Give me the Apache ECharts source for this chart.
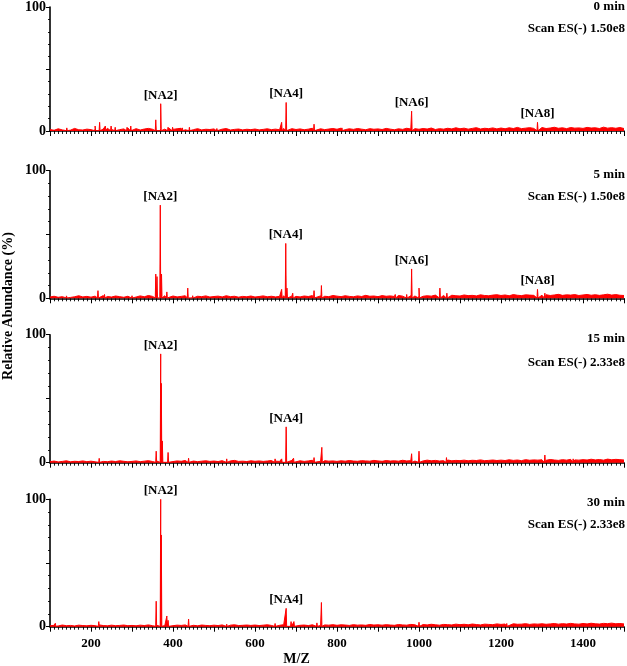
<!DOCTYPE html>
<html>
<head>
<meta charset="utf-8">
<script src="https://cdn.jsdelivr.net/npm/echarts/dist/echarts.min.js"></script>
<style>
html,body{margin:0;padding:0;background:#fff;}
#main{width:627px;height:666px;}
</style>
</head>
<body>
<div id="main"></div>
<script>
// ---- Data ----
const panelTimes = ['0 min', '5 min', '15 min', '30 min'];
const scanLabels = ['Scan ES(-) 1.50e8', 'Scan ES(-) 1.50e8', 'Scan ES(-) 2.33e8', 'Scan ES(-) 2.33e8'];
const xTicks = [200, 400, 600, 800, 1000, 1200, 1400];
const yTicks = [0, 100];

// baseline noise, one value per 10 m/z from 100 to 1500 (relative abundance %)
const noise0 = [
1.2,0.6,1.8,0.9,1.4,0.7,2.1,1.0,0.8,1.5,
1.1,2.0,0.9,1.6,2.2,1.3,2.0,1.1,1.7,2.4,
1.2,1.9,0.8,1.6,2.1,1.4,1.0,2.0,1.5,2.3,
1.3,1.8,2.2,1.0,1.6,1.1,1.9,0.9,1.4,1.2,
1.7,1.0,1.5,2.0,0.8,1.3,1.6,0.9,1.4,1.1,
1.6,0.9,1.3,1.8,1.1,1.5,1.0,2.1,1.4,1.9,
1.2,1.7,1.0,1.5,2.2,1.3,1.8,1.1,1.6,2.0,
1.4,2.3,1.1,1.8,1.3,2.0,1.5,1.0,1.9,1.4,
1.7,1.2,2.1,1.5,1.0,1.8,1.3,2.2,1.6,1.9,
1.4,2.0,1.6,2.4,1.2,1.9,1.5,2.2,1.7,2.6,
1.8,2.3,1.5,2.1,2.7,1.6,2.2,1.9,2.5,1.7,
2.4,1.8,2.6,2.0,2.9,1.9,2.3,2.7,2.1,2.5,
2.8,2.0,2.4,3.0,2.2,2.6,1.9,2.8,2.3,2.5,
2.1,2.9,2.4,2.6,2.0,3.1,2.3,2.7,2.2,2.8,
2.0];
const noise1 = [
1.0,1.6,0.8,1.3,1.9,0.7,1.2,2.0,1.1,1.5,
0.9,1.7,1.2,2.1,1.4,1.0,1.8,1.3,0.8,1.6,
1.4,1.0,1.9,1.2,2.2,1.5,1.1,1.7,2.0,1.3,
1.8,1.1,1.5,2.0,1.2,0.9,1.6,1.3,1.9,1.0,
1.4,1.7,1.1,2.0,1.3,1.6,0.9,1.5,1.2,1.8,
1.0,1.4,1.9,1.2,1.6,1.1,1.5,2.0,1.3,1.7,
1.5,1.1,1.8,1.4,2.1,1.2,1.9,1.6,1.3,2.2,
1.7,1.3,2.0,1.5,1.2,1.9,1.4,2.3,1.6,1.8,
1.3,2.1,1.6,1.9,1.4,2.2,1.7,1.5,2.0,1.8,
2.3,1.6,2.0,1.7,2.5,1.9,2.2,1.6,2.4,2.0,
1.8,2.6,2.1,2.3,1.9,2.7,2.2,2.0,2.5,2.8,
2.2,2.6,2.0,2.9,2.4,2.1,2.7,2.5,2.3,3.0,
2.4,2.8,2.2,2.6,3.1,2.3,2.7,2.5,2.9,2.2,
2.6,3.0,2.4,2.8,2.3,2.7,3.2,2.5,2.9,2.4,
2.2];
const noise2 = [
0.8,1.3,0.6,1.0,1.5,0.7,1.1,0.9,1.4,0.8,
1.2,0.7,1.4,1.0,0.8,1.3,0.9,1.5,1.1,0.7,
1.0,1.4,0.8,1.2,1.6,0.9,1.3,1.0,1.5,1.1,
0.9,1.4,1.1,1.7,1.0,1.3,0.8,1.2,1.5,1.0,
1.3,0.9,1.6,1.1,1.4,1.8,1.0,1.2,0.9,1.5,
1.1,1.4,1.0,1.3,1.7,1.2,1.0,1.6,1.3,1.8,
1.2,1.5,1.0,1.4,1.9,1.3,1.1,1.6,1.2,1.4,
1.0,1.5,1.2,1.7,1.3,1.1,1.6,1.4,1.2,1.8,
1.4,1.1,1.7,1.3,1.5,1.2,1.9,1.4,1.6,1.3,
1.7,1.4,2.0,1.5,1.8,1.3,1.6,2.1,1.5,1.8,
1.6,2.0,1.5,1.9,1.7,2.2,1.6,1.8,2.1,1.7,
2.0,1.7,2.3,1.8,2.1,1.6,2.4,1.9,2.2,2.0,
2.3,1.9,2.5,2.1,1.8,2.4,2.0,2.6,2.2,2.0,
2.4,2.1,2.7,2.2,2.5,2.0,2.8,2.3,2.6,2.4,
2.1];
const noise3 = [
0.7,1.1,0.6,1.3,0.8,1.0,0.6,1.2,0.9,0.7,
1.1,0.8,1.4,0.9,0.7,1.2,0.8,1.0,1.3,0.8,
1.0,0.7,1.2,0.9,1.4,0.8,1.1,1.0,0.9,1.2,
0.8,1.2,1.0,1.4,0.9,1.1,0.7,1.3,1.0,0.8,
1.2,0.9,1.4,1.0,1.2,1.5,0.9,1.1,1.3,1.0,
1.3,0.9,1.2,1.5,1.0,1.4,1.1,1.6,1.2,1.0,
1.4,1.1,1.3,0.9,1.5,1.2,1.0,1.4,1.2,1.6,
1.1,1.5,1.3,1.0,1.6,1.2,1.4,1.1,1.7,1.3,
1.5,1.2,1.6,1.3,1.1,1.7,1.4,1.2,1.8,1.5,
1.3,1.7,1.4,1.9,1.5,1.2,1.8,1.6,1.4,2.0,
1.6,1.9,1.5,2.1,1.7,1.4,2.0,1.8,1.6,2.2,
1.8,2.1,1.7,2.3,1.9,2.0,2.4,1.8,2.2,2.0,
2.3,1.9,2.2,2.5,2.0,2.4,2.1,2.6,2.2,2.0,
2.5,2.2,2.7,2.3,2.1,2.6,2.4,2.8,2.3,2.5,
2.2];

// discrete peaks [m/z, relative abundance %]
const peaks0 = [[113,1.8],[141,2.5],[210,4],[221,7],[235,4],[249,4],[259,3],[288,3],[297,4],
  [358,9],[370,22],[388,3],[399,3],[423,2.5],[440,3],[507,2],[665,7],[676,23],[692,2],
  [744,5.5],[812,2.5],[982,16],[1052,3],[1289,7]];
const peaks1 = [[113,2],[141,3],[217,6],[233,3],[262,2],[300,2],[358,19],[361,17],[369,73],
  [372,19],[385,5],[436,8],[448,2],[665,7],[675,43],[678,8],[692,4],[744,6],[762,10],
  [942,3],[970,3],[982,23],[1000,8],[1051,8],[1068,4],[1289,7],[1307,4]];
const peaks2 = [[113,2],[220,3.4],[359,9],[370,85],[371.5,62],[374,17],[388,8],[438,3.5],
  [531,3],[649,3],[665,3],[676,28],[694,3.5],[744,4],[763,12],[832,2],[982,7],[1000,9],
  [1067,4],[1307,6],[1376,3]];
const peaks3 = [[113,2.7],[219,4],[359,20],[370,100],[371.5,72],[385,8.4],[388,5],[438,6],
  [531,2],[649,2.5],[676,14.4],[688,4],[695,4],[743,3],[751,3],[762,19],[1000,3.5],[1214,2.5]];

// peak annotations [label, m/z, peak height]
const labels0 = [['[NA2]',370,22],['[NA4]',676,23],['[NA6]',982,16],['[NA8]',1289,7]];
const labels1 = [['[NA2]',369,73],['[NA4]',675,43],['[NA6]',982,23],['[NA8]',1289,7]];
const labels2 = [['[NA2]',370,85],['[NA4]',676,28]];
const labels3 = [['[NA2]',370,100],['[NA4]',676,14.4]];

const noises = [noise0, noise1, noise2, noise3];
const peaks = [peaks0, peaks1, peaks2, peaks3];
const labels = [labels0, labels1, labels2, labels3];

// ---- Build ----
function buildSpectrum(noise, pk) {
  const pts = noise.map((v, i) => [100 + i * 10, v]);
  pk.forEach(([mz, h]) => { pts.push([mz - 1.2, 0.3], [mz, h], [mz + 1.2, 0.3]); });
  pts.sort((a, b) => a[0] - b[0]);
  return pts;
}

const FONT = '"Liberation Serif", "Times New Roman", serif';
const gridTops = [4.5, 170.7, 334.7, 499.3];
const gridHeights = [126.5, 127.6, 128, 127.4];

const grids = [], xAxes = [], yAxes = [], series = [], titles = [];
for (let i = 0; i < 4; i++) {
  grids.push({ left: 50, right: 3, top: gridTops[i], height: gridHeights[i], containLabel: false });
  xAxes.push({
    type: 'value', gridIndex: i, min: 100, max: 1500, interval: 100,
    axisLine: { show: true, onZero: false, lineStyle: { color: '#000', width: 1.6 } },
    axisTick: { show: true, length: 5, lineStyle: { color: '#000', width: 1 } },
    minorTick: { show: true, splitNumber: 10, length: 3, lineStyle: { color: '#000', width: 0.9 } },
    splitLine: { show: false }, minorSplitLine: { show: false },
    axisLabel: {
      show: i === 3, margin: 10, color: '#000', fontFamily: FONT, fontWeight: 'bold', fontSize: 13,
      showMinLabel: true, showMaxLabel: true,
      formatter: v => xTicks.indexOf(v) >= 0 ? String(v) : ''
    }
  });
  yAxes.push({
    type: 'value', gridIndex: i, min: 0, max: 100, interval: 50,
    axisLine: { show: true, lineStyle: { color: '#000', width: 1.6 } },
    axisTick: { show: true, length: 4, lineStyle: { color: '#000', width: 1 } },
    minorTick: { show: true, splitNumber: 5, length: 2, lineStyle: { color: '#000', width: 0.9 } },
    splitLine: { show: false }, minorSplitLine: { show: false },
    axisLabel: {
      margin: 4, color: '#000', fontFamily: FONT, fontWeight: 'bold', fontSize: 14,
      formatter: v => yTicks.indexOf(v) >= 0 ? String(v) : ''
    }
  });
  series.push({
    type: 'line', xAxisIndex: i, yAxisIndex: i, data: buildSpectrum(noises[i], peaks[i]),
    showSymbol: false, symbol: 'none', sampling: null, animation: false, z: 3,
    lineStyle: { color: '#ff0000', width: 1 },
    areaStyle: { color: '#ff0000', opacity: 1 }
  });
  series.push({
    type: 'scatter', xAxisIndex: i, yAxisIndex: i, symbolSize: 0, animation: false, z: 4,
    itemStyle: { opacity: 1, color: '#000' },
    data: labels[i].map(l => ({ name: l[0], value: [l[1], l[2]] })),
    label: {
      show: true, position: 'top', distance: 2, formatter: p => p.name, opacity: 1,
      color: '#000', fontFamily: FONT, fontWeight: 'bold', fontSize: 13,
      textBorderWidth: 0
    },
    tooltip: { show: false }
  });
}
const titleTops = [[0, 22.5], [168.5, 190], [332, 356], [496, 518.5]];
for (let i = 0; i < 4; i++) {
  titles.push({ text: panelTimes[i], right: 2, top: titleTops[i][0], padding: 0,
    textStyle: { color: '#000', fontFamily: FONT, fontWeight: 'bold', fontSize: 13 } });
  titles.push({ text: scanLabels[i], right: 2, top: titleTops[i][1], padding: 0,
    textStyle: { color: '#000', fontFamily: FONT, fontWeight: 'bold', fontSize: 13 } });
}

const chart = echarts.init(document.getElementById('main'), null, { renderer: 'canvas' });
chart.setOption({
  animation: false,
  backgroundColor: '#fff',
  title: titles,
  grid: grids,
  xAxis: xAxes,
  yAxis: yAxes,
  series: series,
  graphic: [
    { type: 'text', x: 8, y: 306, rotation: Math.PI / 2,
      style: { text: 'Relative Abundance (%)', textAlign: 'center', textVerticalAlign: 'middle',
        font: 'bold 14px ' + FONT, fill: '#000' } },
    { type: 'text', x: 296.5, y: 659,
      style: { text: 'M/Z', textAlign: 'center', textVerticalAlign: 'middle',
        font: 'bold 14px ' + FONT, fill: '#000' } }
  ]
});
</script>
</body>
</html>
